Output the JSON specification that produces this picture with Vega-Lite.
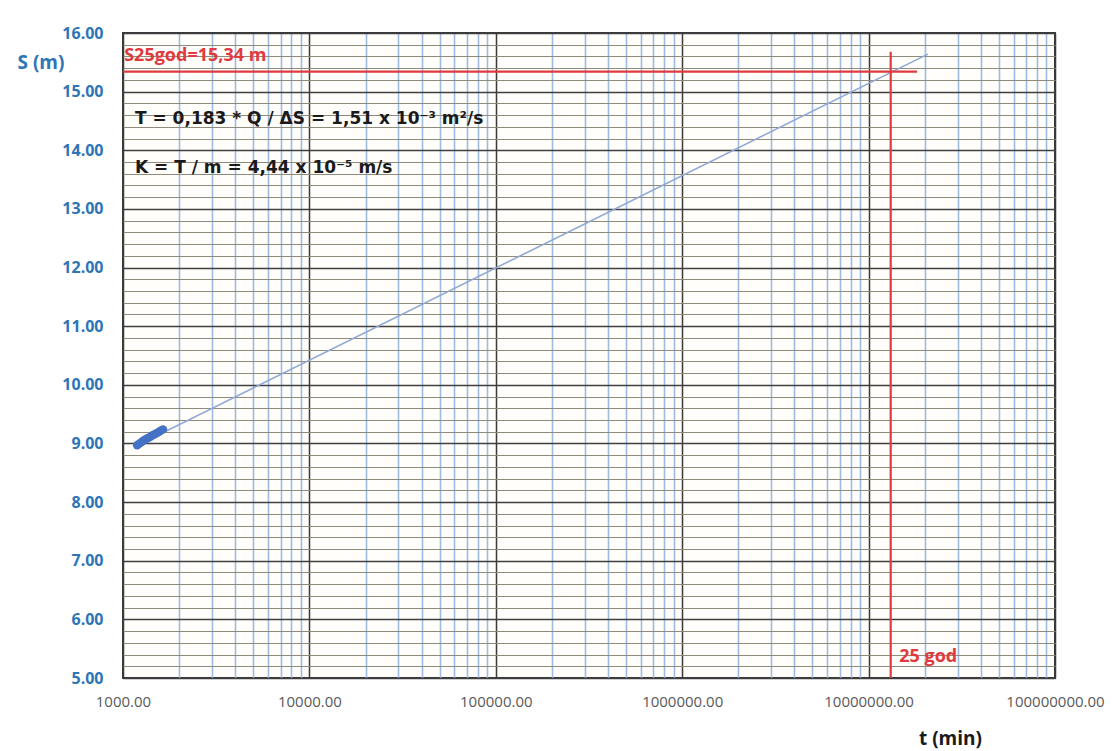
{
  "$schema": "https://vega.github.io/schema/vega-lite/v6.json",
  "autosize": "none",
  "width": 932,
  "height": 645,
  "padding": {"left": 123, "top": 33, "right": 57, "bottom": 73},
  "background": "white",
  "config": {
    "view": {"stroke": "#3a3a3a", "strokeWidth": 2, "fill": "#fffefa"},
    "axis": {"ticks": false, "domain": false}
  },
  "datasets": {
    "points": [
      {"t": 1190, "s": 8.97}, {"t": 1215, "s": 8.99}, {"t": 1240, "s": 9.01}, {"t": 1265, "s": 9.03},
      {"t": 1290, "s": 9.05}, {"t": 1320, "s": 9.07}, {"t": 1350, "s": 9.09}, {"t": 1380, "s": 9.10},
      {"t": 1410, "s": 9.12}, {"t": 1440, "s": 9.14}, {"t": 1470, "s": 9.15}, {"t": 1500, "s": 9.17},
      {"t": 1530, "s": 9.18}, {"t": 1560, "s": 9.20}, {"t": 1600, "s": 9.22}, {"t": 1640, "s": 9.24}
    ],
    "fit": [{"t": 1190, "s": 8.965}, {"t": 20800000, "s": 15.64}],
    "redh": [{"t": 1000, "s": 15.34}, {"t": 18200000, "s": 15.34}],
    "redv": [{"t": 13140000, "s": 5}, {"t": 13140000, "s": 15.68}],
    "formulas": [
      {"t": 1159, "s": 14.53, "label": "T = 0,183 * Q / ΔS = 1,51 x 10⁻³ m²/s"},
      {"t": 1159, "s": 13.70, "label": "K = T / m = 4,44 x 10⁻⁵ m/s"}
    ],
    "redlabels": [
      {"t": 1015, "s": 15.6, "label": "S25god=15,34 m"},
      {"t": 14600000, "s": 5.36, "label": "25 god"}
    ]
  },
  "encoding": {
    "x": {
      "field": "t", "type": "quantitative",
      "scale": {"type": "log", "domain": [1000, 100000000], "nice": false},
      "axis": {
        "values": [1000,2000,3000,4000,5000,6000,7000,8000,9000,10000,20000,30000,40000,50000,60000,70000,80000,90000,100000,200000,300000,400000,500000,600000,700000,800000,900000,1000000,2000000,3000000,4000000,5000000,6000000,7000000,8000000,9000000,10000000,20000000,30000000,40000000,50000000,60000000,70000000,80000000,90000000,100000000],
        "labelExpr": "abs(log(datum.value)/LN10 - round(log(datum.value)/LN10)) < 0.001 ? format(datum.value, '.2f') : ''",
        "labelFont": "Open Sans", "labelFontSize": 15, "labelColor": "#595959",
        "labelPadding": 16, "labelOverlap": false, "labelBound": false, "labelFlush": false,
        "grid": true,
        "gridColor": {"condition": {"test": "abs(log(datum.value)/LN10 - round(log(datum.value)/LN10)) < 0.001", "value": "#3a3a3a"}, "value": "#9dbce4"},
        "gridWidth": {"condition": {"test": "abs(log(datum.value)/LN10 - round(log(datum.value)/LN10)) < 0.001", "value": 1.5}, "value": 1.6},
        "title": "t (min)", "titleFont": "Open Sans", "titleFontSize": 19, "titleFontWeight": "bold", "titleColor": "#1a1a1a",
        "titleX": 827, "titleY": 60, "titleBaseline": "middle", "titleAnchor": null
      }
    },
    "y": {
      "field": "s", "type": "quantitative",
      "scale": {"domain": [5, 16], "nice": false, "zero": false},
      "axis": {
        "values": [5,5.2,5.4,5.6,5.8,6,6.2,6.4,6.6,6.8,7,7.2,7.4,7.6,7.8,8,8.2,8.4,8.6,8.8,9,9.2,9.4,9.6,9.8,10,10.2,10.4,10.6,10.8,11,11.2,11.4,11.6,11.8,12,12.2,12.4,12.6,12.8,13,13.2,13.4,13.6,13.8,14,14.2,14.4,14.6,14.8,15,15.2,15.4,15.6,15.8,16],
        "labelExpr": "abs(datum.value - round(datum.value)) < 0.001 ? format(datum.value, '.2f') : ''",
        "labelFont": "Open Sans", "labelFontSize": 16, "labelFontWeight": "bold", "labelColor": "#2e75b6",
        "labelPadding": 20, "labelOverlap": false, "labelBound": false, "labelFlush": false,
        "grid": true,
        "gridColor": {"condition": {"test": "abs(datum.value - round(datum.value)) < 0.001", "value": "#3f3f3f"}, "value": "#8e8a7c"},
        "gridWidth": {"condition": {"test": "abs(datum.value - round(datum.value)) < 0.001", "value": 1.6}, "value": 1.1},
        "title": "S (m)", "titleFont": "Open Sans", "titleFontSize": 19, "titleFontWeight": "bold", "titleColor": "#2e75b6",
        "titleAngle": 0, "titleAlign": "left", "titleBaseline": "middle", "titleX": -106, "titleY": 29, "titleAnchor": null
      }
    }
  },
  "layer": [
    {"data": {"name": "fit"}, "mark": {"type": "line", "color": "#8fa9d6", "strokeWidth": 1.6}},
    {"data": {"name": "points"}, "mark": {"type": "point", "filled": true, "color": "#4472c4", "size": 70, "opacity": 1}},
    {"data": {"name": "redh"}, "mark": {"type": "line", "color": "#e0393e", "strokeWidth": 2.2}},
    {"data": {"name": "redv"}, "mark": {"type": "line", "color": "#e0393e", "strokeWidth": 2.2}},
    {"data": {"name": "formulas"}, "mark": {"type": "text", "align": "left", "baseline": "middle", "font": "DejaVu Sans", "fontSize": 17, "fontWeight": "bold", "color": "#1a1a1a"},
     "encoding": {"text": {"field": "label"}}},
    {"data": {"name": "redlabels"}, "mark": {"type": "text", "align": "left", "baseline": "middle", "font": "Open Sans", "fontSize": 18, "fontWeight": "bold", "color": "#e0393e"},
     "encoding": {"text": {"field": "label"}}}
  ]
}
